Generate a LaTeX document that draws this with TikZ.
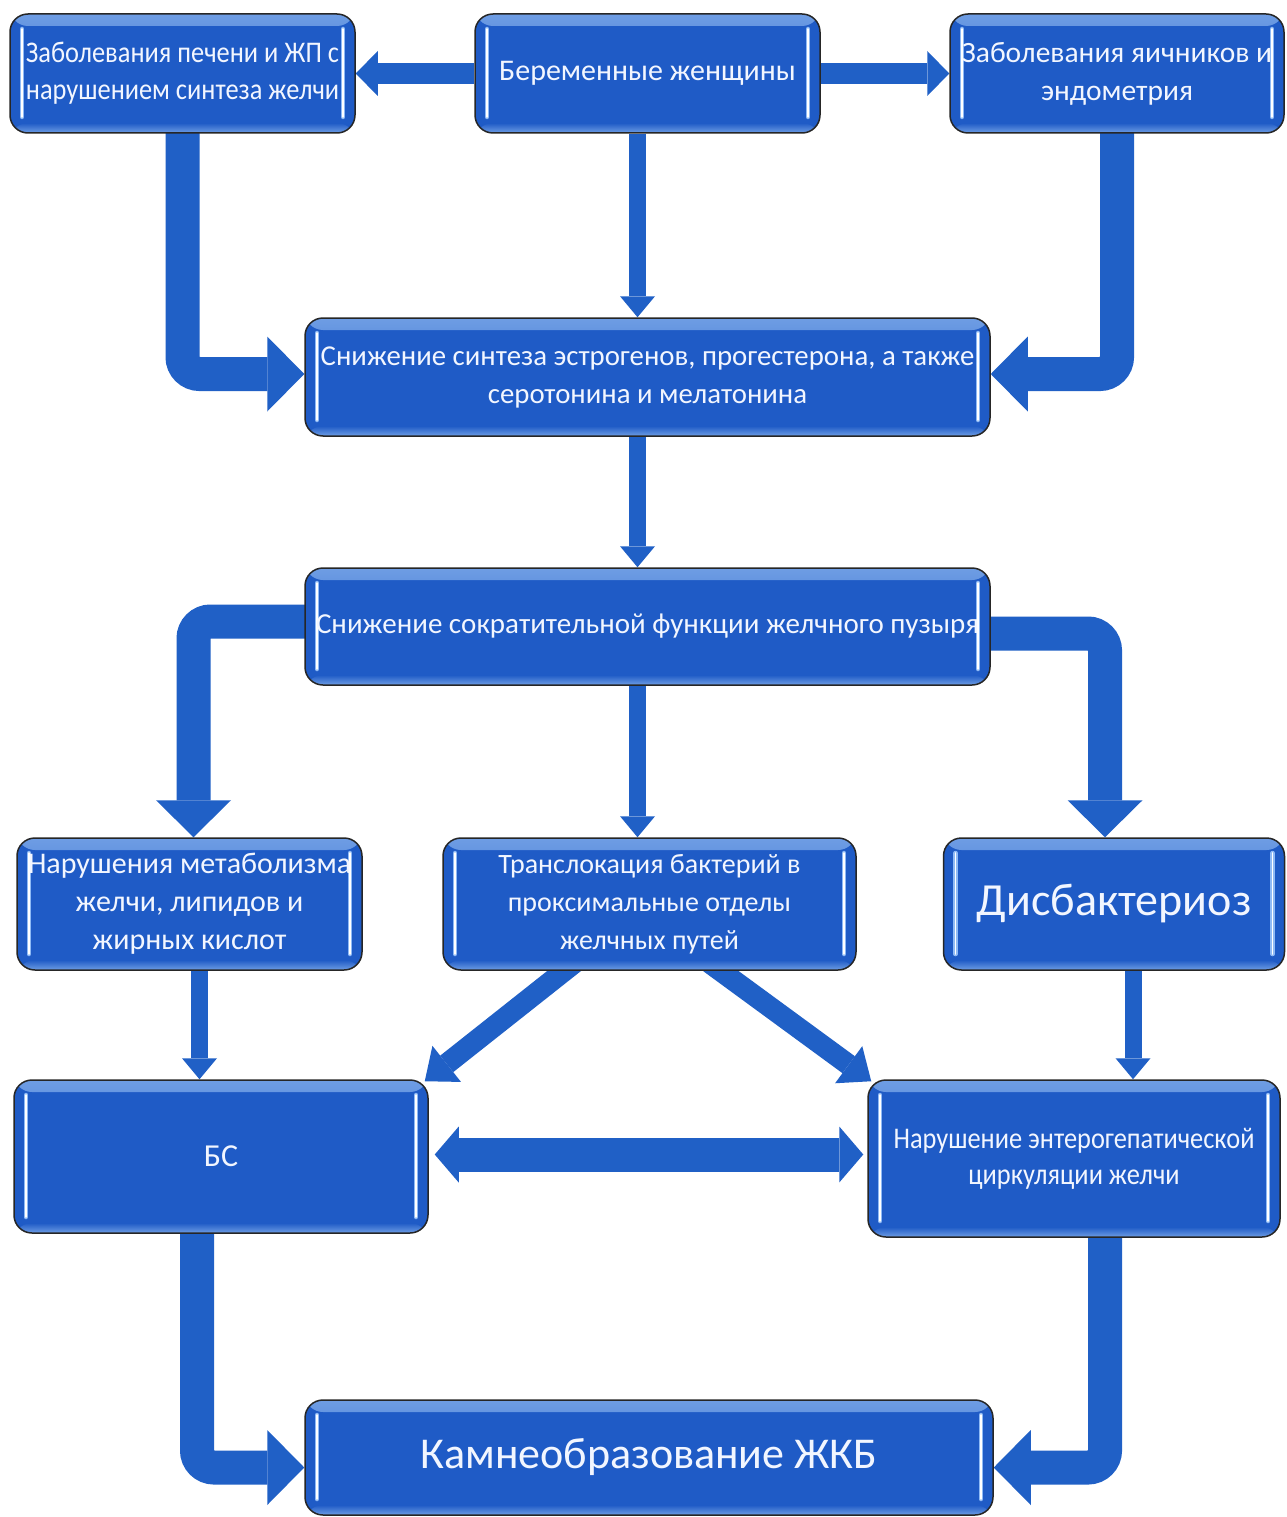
\documentclass[tikz,border=0pt]{standalone}
\usepackage{fontspec}
\usetikzlibrary{arrows.meta,calc}
\newfontfamily\cf{Carlito}
\newfontfamily\cfn[FakeStretch=0.88]{Carlito}
\definecolor{boxblue}{HTML}{1F5BC6}
\definecolor{boxhi}{HTML}{6E9DE4}
\definecolor{arrowblue}{HTML}{2060C6}
\definecolor{hlline}{HTML}{8FBAF5}
\definecolor{txt}{HTML}{F2F6FF}
\pgfdeclarelayer{background}
\pgfsetlayers{background,main}
\tikzset{
  box/.style={draw=black!85, line width=1.5pt, fill=boxblue, rounded corners=18pt,
    inner sep=0pt, text=txt, align=center,
    path picture={
      \fill[top color=boxhi, bottom color=boxblue] (path picture bounding box.north west) rectangle ([yshift=-12pt]path picture bounding box.north east);
      \fill[top color=boxblue, bottom color=boxhi] ([yshift=10pt]path picture bounding box.south west) rectangle (path picture bounding box.south east);
      \draw[hlline, line width=4.5pt, line cap=round] ([xshift=12pt,yshift=-15pt]path picture bounding box.north west) -- ([xshift=12pt,yshift=16pt]path picture bounding box.south west);
      \draw[white, line width=1.6pt, line cap=round] ([xshift=12pt,yshift=-15pt]path picture bounding box.north west) -- ([xshift=12pt,yshift=16pt]path picture bounding box.south west);
      \draw[hlline, line width=4.5pt, line cap=round] ([xshift=-12pt,yshift=-15pt]path picture bounding box.north east) -- ([xshift=-12pt,yshift=16pt]path picture bounding box.south east);
      \draw[white, line width=1.6pt, line cap=round] ([xshift=-12pt,yshift=-15pt]path picture bounding box.north east) -- ([xshift=-12pt,yshift=16pt]path picture bounding box.south east);
    }},
  bigarrow/.style={draw=arrowblue, line width=34pt, rounded corners=17pt,
    -{Triangle[width=75pt,length=37pt,line width=0pt]}},
  midarrow/.style={draw=arrowblue, line width=21pt,
    -{Triangle[width=45pt,length=22pt,line width=0pt]}},
  thinarrow/.style={draw=arrowblue, line width=17pt,
    -{Triangle[width=35pt,length=21pt,line width=0pt]}},
  diagarrow/.style={draw=arrowblue, line width=21pt,
    -{Triangle[width=46pt,length=28pt,line width=0pt]}},
  dblarrow/.style={draw=arrowblue, line width=34pt,
    {Triangle[width=56pt,length=24pt,line width=0pt]}-{Triangle[width=56pt,length=24pt,line width=0pt]}},
}
\begin{document}
\begin{tikzpicture}[x=1pt,y=-1pt]
\useasboundingbox (0,0) rectangle (1286,1517);

\node[box, minimum width=345pt, minimum height=119pt, font=\cfn\fontsize{30}{37}\selectfont] (A) at (182.5,73.5)
  {Заболевания печени и ЖП с\\нарушением синтеза желчи};
\node[box, minimum width=345pt, minimum height=119pt, font=\cf\fontsize{30}{37}\selectfont] (B) at (647.5,73.5)
  {Беременные женщины};
\node[box, minimum width=334pt, minimum height=119pt, font=\cf\fontsize{29.5}{38}\selectfont] (C) at (1117,73.5)
  {Заболевания яичников и\\эндометрия};
\node[box, minimum width=685pt, minimum height=118pt, font=\cf\fontsize{28.8}{38}\selectfont] (D) at (647.5,377)
  {Снижение синтеза эстрогенов, прогестерона, а также\\серотонина и мелатонина};
\node[box, minimum width=685pt, minimum height=117pt, font=\cf\fontsize{29}{38}\selectfont] (E) at (647.5,626.5)
  {Снижение сократительной функции желчного пузыря};
\node[box, minimum width=345pt, minimum height=132pt, font=\cf\fontsize{30}{38}\selectfont] (F) at (189.5,904)
  {Нарушения метаболизма\\желчи, липидов и\\жирных кислот};
\node[box, minimum width=413pt, minimum height=132pt, font=\cf\fontsize{28}{38}\selectfont] (G) at (649.5,904)
  {Транслокация бактерий в\\проксимальные отделы\\желчных путей};
\node[box, minimum width=341pt, minimum height=132pt, font=\cf\fontsize{46}{50}\selectfont] (H) at (1114,904)
  {Дисбактериоз};
\node[box, minimum width=414pt, minimum height=153pt, font=\cf\fontsize{32}{38}\selectfont] (I) at (221,1156.5)
  {БС};
\node[box, minimum width=412pt, minimum height=157pt, font=\cfn\fontsize{30}{36}\selectfont] (J) at (1074,1158.5)
  {Нарушение энтерогепатической\\циркуляции желчи};
\node[box, minimum width=688pt, minimum height=115pt, font=\cf\fontsize{44}{50}\selectfont] (K) at (649,1457.5)
  {Камнеобразование ЖКБ};

\begin{pgfonlayer}{background}
\fill[white] (0,0) rectangle (1286,1517);
% top row
\draw[midarrow] (B.west) -- (A.east);
\draw[midarrow] (B.east) -- (C.west);
% bent arrows to D
\draw[bigarrow] ([yshift=10pt]A.south) |- ([yshift=3pt]D.west);
\draw[bigarrow] ([yshift=10pt]C.south) |- ([yshift=3pt]D.east);
% vertical thin center
\draw[thinarrow] ([xshift=-10pt]B.south) -- ([xshift=-10pt]B.south |- D.north);
\draw[thinarrow] ([xshift=-10pt]D.south) -- ([xshift=-10pt]D.south |- E.north);
\draw[thinarrow] ([xshift=-10pt]E.south) -- ([xshift=-10pt]E.south |- G.north);
% bent from E
\draw[bigarrow] ([yshift=5pt,xshift=10pt]E.west) -| ([xshift=4pt]F.north);
\draw[bigarrow] ([yshift=-7pt,xshift=-10pt]E.east) -| ([xshift=-9pt]H.north);
% F -> I, H -> J
\draw[thinarrow] ([xshift=10pt]F.south) -- ([xshift=10pt]F.south |- I.north);
\draw[thinarrow] ([xshift=19pt]H.south) -- ([xshift=19pt]H.south |- J.north);
% diagonals from G
\draw[diagarrow] ([xshift=-75pt,yshift=8pt]G.south) -- ([xshift=-4pt,yshift=-2pt]I.north east);
\draw[diagarrow] ([xshift=60pt,yshift=8pt]G.south) -- ([xshift=4pt,yshift=-2pt]J.north west);
% double arrow
\draw[dblarrow, shorten <=6pt, shorten >=4pt] ([yshift=2pt]I.east) -- ([yshift=2pt]I.east -| J.west);
% bent to K
\draw[bigarrow] ([xshift=-24pt,yshift=10pt]I.south) |- ([yshift=-10pt]K.west);
\draw[bigarrow] ([xshift=31pt,yshift=10pt]J.south) |- ([yshift=-10pt]K.east);
\end{pgfonlayer}
\end{tikzpicture}
\end{document}
